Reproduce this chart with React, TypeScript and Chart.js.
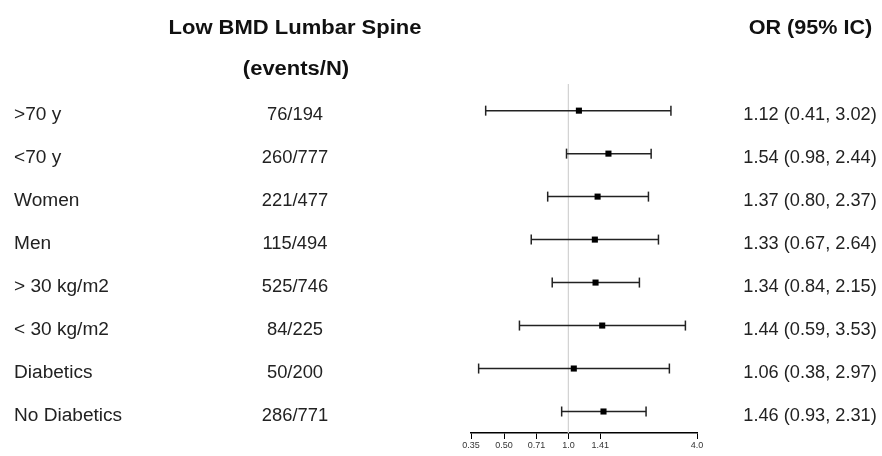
import React, { useEffect, useRef } from "react";
import { Chart, registerables } from "chart.js";

Chart.register(...registerables);

const subgroups = [">70 y", "<70 y", "Women", "Men", "> 30 kg/m2", "< 30 kg/m2", "Diabetics", "No Diabetics"];
const eventsN = ["76/194", "260/777", "221/477", "115/494", "525/746", "84/225", "50/200", "286/771"];
const oddsRatio = [1.12, 1.54, 1.37, 1.33, 1.34, 1.44, 1.06, 1.46];
const ciLow = [0.41, 0.98, 0.80, 0.67, 0.84, 0.59, 0.38, 0.93];
const ciHigh = [3.02, 2.44, 2.37, 2.64, 2.15, 3.53, 2.97, 2.31];
const tickValues = [0.35, 0.5, 0.71, 1.0, 1.41, 4.0];
const tickLabels = ["0.35", "0.50", "0.71", "1.0", "1.41", "4.0"];
const headerLeft1 = "Low BMD Lumbar Spine";
const headerLeft2 = "(events/N)";
const headerRight = "OR (95% IC)";

const FONT = "'Liberation Sans', Arial, sans-serif";

const fmt = (v: number) => v.toFixed(2);

function stretchedText(ctx: any, text: string, x: number, y: number, sx: number, align: string) {
  ctx.save();
  ctx.translate(x, y);
  ctx.scale(sx, 1);
  ctx.textAlign = align;
  ctx.fillText(text, 0, 0);
  ctx.restore();
}

export default function App() {
  const ref = useRef<HTMLCanvasElement | null>(null);

  useEffect(() => {
    const canvas = ref.current;
    if (!canvas) return;

    const yMin = -0.62;
    const yMax = 7.5;

    const whiskers = subgroups.map((_, i) => ({
      type: "line" as const,
      data: [
        { x: ciLow[i], y: i },
        { x: ciHigh[i], y: i },
      ],
      borderColor: "#222222",
      borderWidth: 1.5,
      pointStyle: "line" as const,
      rotation: 90,
      pointRadius: 5,
      pointBorderColor: "#222222",
      pointBorderWidth: 1.5,
      pointHoverRadius: 5,
      showLine: true,
      order: 2,
    }));

    const textPlugin = {
      id: "forestText",
      afterDraw(chart: any) {
        const ctx = chart.ctx;
        const ys = chart.scales.y;
        ctx.save();
        ctx.fillStyle = "#111111";
        ctx.textBaseline = "alphabetic";
        ctx.font = `bold 20px ${FONT}`;
        stretchedText(ctx, headerLeft1, 295, 33.5, 1.1, "center");
        stretchedText(ctx, headerLeft2, 296, 75, 1.1, "center");
        stretchedText(ctx, headerRight, 810.5, 33.5, 1.08, "center");

        ctx.font = `18px ${FONT}`;
        ctx.fillStyle = "#222222";
        subgroups.forEach((label, i) => {
          const y = ys.getPixelForValue(i) + 9;
          stretchedText(ctx, label, 14, y, 1.06, "left");
          stretchedText(ctx, eventsN[i], 295, y, 1.02, "center");
          stretchedText(
            ctx,
            `${fmt(oddsRatio[i])} (${fmt(ciLow[i])}, ${fmt(ciHigh[i])})`,
            810,
            y,
            1.01,
            "center"
          );
        });
        ctx.restore();
      },
    };

    const chart = new Chart(canvas, {
      type: "scatter",
      data: {
        datasets: [
          {
            type: "line",
            data: [
              { x: 1, y: yMin },
              { x: 1, y: yMax },
            ],
            borderColor: "#d4d4d4",
            borderWidth: 1,
            pointRadius: 0,
            showLine: true,
            order: 3,
          } as any,
          ...(whiskers as any[]),
          {
            type: "scatter",
            data: oddsRatio.map((v, i) => ({ x: v, y: i })),
            pointStyle: "rect",
            pointRadius: 4.3,
            pointHoverRadius: 4.3,
            backgroundColor: "#000000",
            borderColor: "#000000",
            borderWidth: 0,
            order: 1,
          } as any,
        ],
      },
      options: {
        animation: false,
        responsive: false,
        devicePixelRatio: 1,
        events: [],
        layout: { padding: { left: 471, right: 185, top: 84, bottom: 0 } },
        plugins: {
          legend: { display: false },
          tooltip: { enabled: false },
        },
        scales: {
          x: {
            type: "logarithmic",
            min: 0.35,
            max: 4,
            afterBuildTicks: (scale: any) => {
              scale.ticks = tickValues.map((v) => ({ value: v }));
            },
            afterFit: (scale: any) => {
              scale.height = 23;
            },
            ticks: {
              autoSkip: false,
              maxRotation: 0,
              padding: 1,
              color: "#333333",
              font: { size: 9, family: FONT },
              callback: (value: any) => {
                const idx = tickValues.findIndex((t) => Math.abs(t - Number(value)) < 1e-6);
                return idx >= 0 ? tickLabels[idx] : "";
              },
            },
            grid: {
              drawOnChartArea: false,
              drawTicks: true,
              tickLength: 6,
              color: "#000000",
              lineWidth: 1,
            },
            border: { display: true, color: "#000000", width: 1.5 },
          },
          y: {
            type: "linear",
            reverse: true,
            min: yMin,
            max: yMax,
            display: false,
          },
        },
      },
      plugins: [textPlugin],
    } as any);

    return () => chart.destroy();
  }, []);

  return (
    <div style={{ position: "fixed", left: 0, top: 0, width: 882, height: 456, background: "#ffffff" }}>
      <canvas ref={ref} width={882} height={456} style={{ display: "block" }} />
    </div>
  );
}
